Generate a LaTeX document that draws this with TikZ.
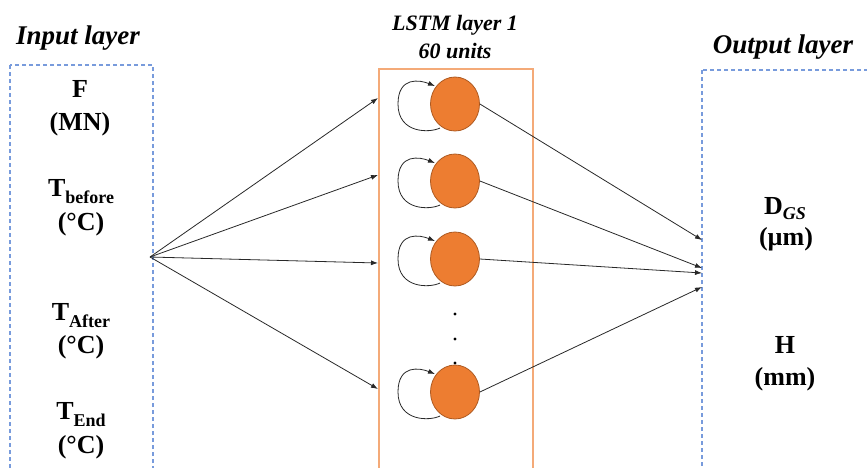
\documentclass[tikz,border=0pt]{standalone}
\usepackage{fontspec}
\setmainfont{Liberation Serif}
\usepackage{tikz}
\usetikzlibrary{arrows.meta,calc,positioning,shapes.geometric}

\definecolor{boxblue}{RGB}{120,155,220}
\definecolor{boxorange}{RGB}{244,170,120}
\definecolor{unitfill}{RGB}{237,125,49}
\definecolor{unitedge}{RGB}{174,90,33}
\definecolor{wirecol}{RGB}{40,40,40}

\newcommand{\lowsub}[1]{\raisebox{-7pt}{\fontsize{18}{18}\selectfont #1}}

\tikzset{
    layerbox/.style={draw=boxblue, line width=1.2pt, dash pattern=on 4pt off 3pt},
    titletext/.style={anchor=base, font=\fontsize{27}{30}\selectfont\bfseries\itshape},
    lstmtext/.style={anchor=base, font=\fontsize{22}{24}\selectfont\bfseries\itshape},
    vartext/.style={anchor=base, inner sep=0pt, font=\fontsize{26}{28}\selectfont\bfseries},
    unit/.style={ellipse, draw=unitedge, fill=unitfill, line width=0.8pt,
        minimum width=49pt, minimum height=54pt, inner sep=0pt},
    wire/.style={wirecol, line width=0.8pt, -{Latex[length=7pt,width=5pt]}},
}

\begin{document}
\begin{tikzpicture}[x=1pt, y=-1pt]
    \useasboundingbox (0,0) rectangle (867,467);
    \clip (0,0) rectangle (867,467);

    % layers
    \draw[layerbox] (10,65) rectangle (153,490);
    \draw[draw=boxorange, line width=1.4pt] (379,69) rectangle (533,490);
    \draw[layerbox] (702,70) rectangle (890,490);

    \node[titletext] (tin) at (78,44) {Input layer};
    \node[lstmtext] (tlstm) at (455,30) {LSTM layer 1};
    \node[lstmtext] (tunits) at (455,58) {60 units};
    \node[titletext] (tout) at (783,53) {Output layer};

    % inputs
    \node[vartext] (f) at (80,97) {F};
    \node[vartext] (fu) at (80,130) {(MN)};
    \node[vartext] (tb) at (81,196) {T\lowsub{before}};
    \node[vartext] (tbu) at (81,230) {(°C)};
    \node[vartext] (ta) at (81,320) {T\lowsub{After}};
    \node[vartext] (tau) at (81,353) {(°C)};
    \node[vartext] (te) at (81,419) {T\lowsub{End}};
    \node[vartext] (teu) at (81,453) {(°C)};

    % outputs
    \node[vartext] (d) at (785,214) {D{\raisebox{-5pt}{\fontsize{18}{18}\selectfont\itshape GS}}};
    \node[vartext] (du) at (786,245) {(µm)};
    \node[vartext] (h) at (785,353) {H};
    \node[vartext] (hu) at (785,385) {(mm)};

    % LSTM units
    \foreach \y [count=\i] in {104,181,259,392}
        \node[unit] (u\i) at (455,\y) {};
    \foreach \y in {314,339,363}
        \fill (455,\y) circle (1.6);

    \coordinate (src) at (150,257);
    \foreach \y [count=\i] in {98,175,263,389}
        \coordinate (h\i) at (378,\y);
    \coordinate (o1) at (702,240);
    \coordinate (o2) at (702,268);
    \coordinate (o3) at (702,273);
    \coordinate (o4) at (702,287);

    \foreach \i in {1,...,4} {
        \draw[wire] (src) -- (h\i);
        \draw[wire] (u\i.east) -- (o\i);
        % recurrent loop
        \draw[wire] ($(u\i)+(-15,24)$) .. controls +(-10,5) and +(0,30) .. ($(u\i)+(-57,0)$)
            .. controls +(0,-28) and +(-15,-6) .. ($(u\i)+(-20,-18)$);
    }
\end{tikzpicture}
\end{document}
